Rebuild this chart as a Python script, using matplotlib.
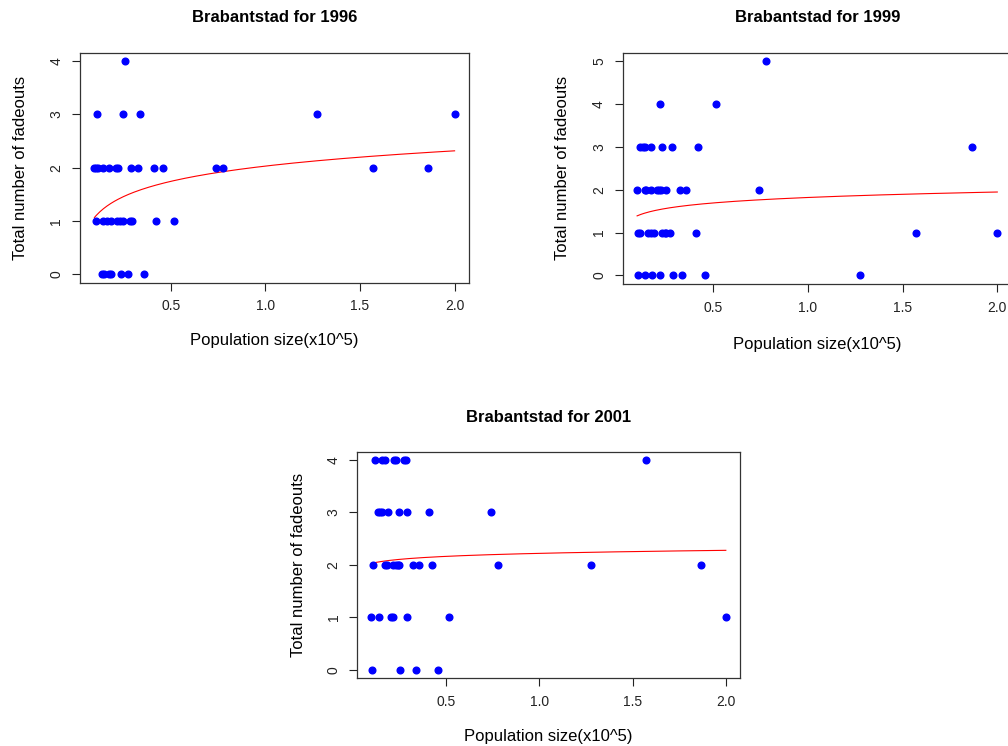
import numpy as np
import matplotlib.pyplot as plt

plt.rcParams['font.family'] = ['Liberation Sans', 'DejaVu Sans']

# population size (x10^5) and number of fadeouts per municipality
pop_1996 = [0.257,
            0.110, 0.250, 0.339, 1.273, 2.000,
            0.097, 0.105, 0.115, 0.145, 0.175, 0.210, 0.222, 0.292, 0.327,
            0.413, 0.460, 0.738, 0.777, 1.569, 1.859,
            0.108, 0.143, 0.161, 0.184, 0.219, 0.233, 0.250, 0.283, 0.294,
            0.423, 0.519,
            0.136, 0.149, 0.175, 0.187, 0.238, 0.276, 0.358]
fade_1996 = [4,
             3, 3, 3, 3, 3,
             2, 2, 2, 2, 2, 2, 2, 2, 2,
             2, 2, 2, 2, 2, 2,
             1, 1, 1, 1, 1, 1, 1, 1, 1,
             1, 1,
             0, 0, 0, 0, 0, 0, 0]

pop_1999 = [0.776,
            0.216, 0.516,
            0.111, 0.126, 0.138, 0.172, 0.228, 0.279, 0.418, 1.865,
            0.097, 0.138, 0.146, 0.169, 0.202, 0.212, 0.221, 0.249, 0.321,
            0.356, 0.739,
            0.103, 0.111, 0.152, 0.172, 0.185, 0.230, 0.242, 0.251, 0.272,
            0.410, 1.572, 2.000,
            0.103, 0.139, 0.178, 0.220, 0.289, 0.336, 0.457, 1.276]
fade_1999 = [5,
             4, 4,
             3, 3, 3, 3, 3, 3, 3, 3,
             2, 2, 2, 2, 2, 2, 2, 2, 2,
             2, 2,
             1, 1, 1, 1, 1, 1, 1, 1, 1,
             1, 1, 1,
             0, 0, 0, 0, 0, 0, 0, 0]

pop_2001 = [0.121, 0.156, 0.174, 0.224, 0.233, 0.276, 0.286, 1.573,
            0.135, 0.148, 0.156, 0.192, 0.251, 0.292, 0.411, 0.741,
            0.110, 0.171, 0.183, 0.219, 0.231, 0.242, 0.251, 0.324, 0.358,
            0.424, 0.780, 1.279, 1.867,
            0.101, 0.142, 0.206, 0.219, 0.292, 0.518, 2.000,
            0.106, 0.254, 0.338, 0.459]
fade_2001 = [4, 4, 4, 4, 4, 4, 4, 4,
             3, 3, 3, 3, 3, 3, 3, 3,
             2, 2, 2, 2, 2, 2, 2, 2, 2,
             2, 2, 2, 2,
             1, 1, 1, 1, 1, 1, 1,
             0, 0, 0, 0]

# fitted curve y = a + b*log(x), coefficients
fit_1996 = (2.03, 0.414)
fit_1999 = (1.82, 0.184)
fit_2001 = (2.22, 0.083)

W, H = 1008, 746
fig = plt.figure(figsize=(W / 100, H / 100), dpi=100)


def panel(box, pop, fade, fit, year, title_y, xlab_y, ylab_x):
    # box = (left, top, right, bottom) in pixels
    l, t, r, b = box
    wpx, hpx = r - l, b - t
    ax = fig.add_axes([l / W, 1 - b / H, wpx / W, hpx / H])
    pop = np.array(pop)
    fade = np.array(fade)

    ax.plot(pop, fade, 'o', color='blue', mec='blue', ms=4.8, zorder=3)

    a, slope = fit
    xs = np.linspace(pop.min(), pop.max(), 200)
    ax.plot(xs, a + slope * np.log(xs), color='red', lw=0.8, zorder=2)

    span = pop.max() - pop.min()
    ax.set_xlim(pop.min() - 0.04 * span, pop.max() + 0.04 * span)
    ymax = fade.max()
    ax.set_ylim(-0.04 * ymax, ymax * 1.04)

    ax.set_xticks([0.5, 1.0, 1.5, 2.0])
    ax.set_xticklabels(['0.5', '1.0', '1.5', '2.0'])
    ax.set_yticks(range(0, ymax + 1))
    ax.tick_params(axis='both', direction='out', length=6, width=0.8,
                   labelsize=10, colors='#222222', pad=6)
    for lab in ax.get_yticklabels():
        lab.set_rotation(90)
        lab.set_va('center')
    for s in ax.spines.values():
        s.set_linewidth(0.9)
        s.set_color('#333333')

    ax.set_xlabel('Population size(x10^5)', fontsize=12, va='center')
    ax.xaxis.set_label_coords(0.5, -(xlab_y - b) / hpx)
    ax.set_ylabel('Total number of fadeouts', fontsize=12, va='center')
    ax.yaxis.set_label_coords(-(l - ylab_x) / wpx, 0.5)

    fig.text((l + r) / 2 / W, 1 - title_y / H, 'Brabantstad for %d' % year,
             fontsize=12, fontweight='bold', ha='center', va='center')
    return ax


panel((80, 52.7, 469, 282.7), pop_1996, fade_1996, fit_1996, 1996, 18, 340, 20.7)
panel((622.7, 52.7, 1011.7, 284), pop_1999, fade_1999, fit_1999, 1999, 18, 344, 562.7)
panel((357.3, 451.5, 740, 678.3), pop_2001, fade_2001, fit_2001, 2001, 417, 736.7, 298.3)

fig.savefig('out.png', dpi=100)
